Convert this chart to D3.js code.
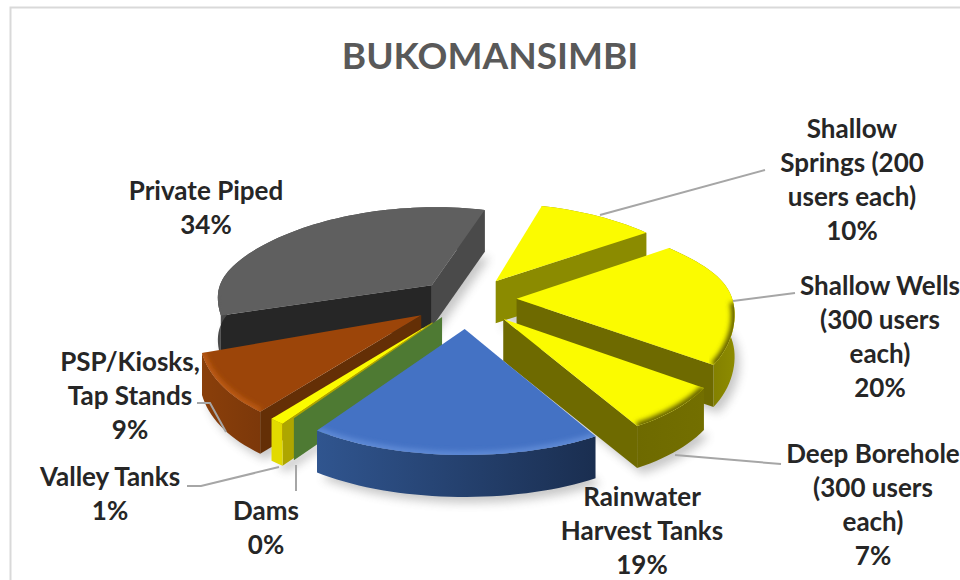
<!DOCTYPE html>
<html><head><meta charset="utf-8">
<script src="https://cdn.jsdelivr.net/npm/d3@7/dist/d3.min.js"></script>
<style>html,body{margin:0;padding:0;background:#fff;overflow:hidden}svg{display:block}text{font-family:Lato,"Open Sans",sans-serif;font-weight:700}</style>
</head><body><svg id="c" width="960" height="580"></svg>
<script>
const titleText = "BUKOMANSIMBI";
const categories = ["Shallow Springs (200 users each)","Shallow Wells (300 users each)","Deep Borehole (300 users each)","Rainwater Harvest Tanks","Dams","Valley Tanks","PSP/Kiosks, Tap Stands","Private Piped"];
const shares = [10,20,7,19,0,1,9,34];
const labelLines = [["Shallow","Springs (200","users each)"],["Shallow Wells","(300 users","each)"],["Deep Borehole","(300 users","each)"],["Rainwater","Harvest Tanks"],["Dams"],["Valley Tanks"],["PSP/Kiosks,","Tap Stands"],["Private Piped"]];

// presentation settings, separate from the data
const explode = [.25,.23,.235,.25,.19,.25,.25,.23];
const paintOrder = [7,0,6,1,5,4,2,3];
const labelAnchor = [[852,129],[880,286],[873,454],[642,497],[266,511],[110,477],[130,362],[206,191]];
const leaders = [[[600,215],[765,170]],[[733,301],[795,293]],[[675,455],[781,464]],null,[[296,465],[296,491]],[[187,486],[201,486],[279,467]],[[197,403],[210,403],[226,432]],null];
const looks = [
 {top:"#fbfb00",wall:"#8b8b00",rim:["#8b8b00","#8b8b00"],bevel:"#8b8b00"},
 {top:"#fbfb00",wall:"#6e6a00",rim:["#6e6a00","#8d8b00"],bevel:"#5a5600"},
 {top:"#fbfb00",wall:"#6e6a00",rim:["#6e6a00","#736f00"],bevel:"#5a5600"},
 {top:"#4472c4",wall:"#2f5597",rim:["#30558f","#1a2e50"],bevel:"#5f8ad6"},
 {top:"#4e7a33",wall:"#4e7a33",rim:["#4e7a33","#4e7a33"],bevel:"#4e7a33"},
 {top:"#fbfb00",wall:"#aea600",rim:["#e2da00","#e2da00"],bevel:"#fbfb00"},
 {top:"#9c4509",wall:"#642f06",rim:["#8a3f0a","#7c380a"],bevel:"#bd5c12"},
 {top:"#5f5f5f",wall:"#4a4a4a",startWall:"#262626",rim:["#4a4a4a","#4a4a4a"],bevel:"#5f5f5f"}
];
const cx=467, cy=300, depth=42, ax=216;
const rad=d=>d*Math.PI/180;

// oblique-perspective view of the pie's ground plane
function view(u,v){
  const s=1/(1-.12*v);
  return [cx+ax*u*s, cy+v*(102+22*Math.tanh(3*v))];
}
const svg=d3.select("#c");
const defs=svg.append("defs");
const blur=defs.append("filter").attr("id","soft").attr("x","-20%").attr("y","-20%").attr("width","140%").attr("height","140%");
blur.append("feGaussianBlur").attr("stdDeviation",2.6);
const sh=defs.append("filter").attr("id","shade").attr("x","-20%").attr("y","-20%").attr("width","140%").attr("height","140%");
sh.append("feGaussianBlur").attr("stdDeviation",5);

// frame
const line=d3.line();
svg.append("path").attr("d",line([[10.5,580],[10.5,7.5],[960,7.5]])).attr("fill","none").attr("stroke","#d9d9d9").attr("stroke-width",2);

svg.append("text").attr("x",490).attr("y",69).attr("text-anchor","middle").attr("font-size",37).attr("fill","#595959").text(titleText);

const pie=d3.pie().sort(null).value(d=>d).startAngle(rad(15)).endAngle(rad(375));
const arcs=pie(shares);
const slices=arcs.map((a,i)=>{
  const mid=(a.startAngle+a.endAngle)/2, e=explode[i];
  const ox=e*Math.sin(mid), oy=-e*Math.cos(mid);
  const pt=(t,r=1)=>view(ox+r*Math.sin(t),oy-r*Math.cos(t));
  const n=Math.max(2,Math.ceil((a.endAngle-a.startAngle)/rad(2)));
  const ts=d3.range(n+1).map(k=>a.startAngle+(a.endAngle-a.startAngle)*k/n);
  return {a,i,apex:view(ox,oy),rim:ts.map(t=>pt(t)),pt};
});
const down=p=>[p[0],p[1]+depth];
const closed=d3.line().curve(d3.curveLinearClosed);

// soft ground shadow, one layer below all slices
const shadow=svg.append("g").attr("filter","url(#shade)").attr("transform","translate(5,6)").attr("opacity",.32);
slices.forEach(s=>{
  const o=[s.apex,...s.rim].map(down);
  shadow.append("path").attr("d",closed(o)).attr("fill","#555");
});

paintOrder.forEach(idx=>{
  const s=slices[idx], L=looks[idx], g=svg.append("g");
  const first=s.rim[0], last=s.rim[s.rim.length-1];
  const a0=s.a.startAngle, a1=s.a.endAngle;
  const xs=s.rim.map(p=>p[0]);
  const gid="rim"+idx;
  const lg=defs.append("linearGradient").attr("id",gid).attr("gradientUnits","userSpaceOnUse")
    .attr("x1",d3.min(xs)).attr("x2",d3.max(xs)).attr("y1",0).attr("y2",0);
  lg.append("stop").attr("offset",0).attr("stop-color",L.rim[0]);
  lg.append("stop").attr("offset",1).attr("stop-color",L.rim[1]);
  if(Math.sin(a0)<0) g.append("path").attr("d",closed([s.apex,first,down(first),down(s.apex)])).attr("fill",L.startWall||L.wall);
  if(Math.sin(a1)>0) g.append("path").attr("d",closed([s.apex,last,down(last),down(s.apex)])).attr("fill",L.wall);
  if(s.rim.length>2) g.append("path").attr("d",closed([...s.rim,...s.rim.map(down).reverse()])).attr("fill",`url(#${gid})`);
  const topPoly=[s.apex,...s.rim];
  if(a1>a0){
    g.append("path").attr("d",closed(topPoly)).attr("fill",L.top);
    const from=Math.max(a0,rad(92)), to=Math.min(a1,rad(268));
    if(to>from){
      const cid="clip"+idx;
      defs.append("clipPath").attr("id",cid).append("path").attr("d",closed(topPoly));
      const m=Math.ceil((to-from)/rad(2));
      const b=d3.range(m+1).map(k=>s.pt(from+(to-from)*k/m));
      g.append("g").attr("clip-path",`url(#${cid})`).append("path")
        .attr("d",line(b)).attr("fill","none").attr("stroke",L.bevel).attr("stroke-width",7).attr("filter","url(#soft)");
    }
  }
});

svg.append("g").selectAll("path").data(leaders.filter(Boolean)).join("path")
  .attr("d",d=>line(d)).attr("fill","none").attr("stroke","#a6a6a6").attr("stroke-width",2);

const fmt=d3.format(".0f");
const lab=svg.append("g").attr("font-size",26).attr("fill","#262626").attr("text-anchor","middle");
categories.forEach((c,i)=>{
  const [x,y]=labelAnchor[i];
  const lines=[...labelLines[i],fmt(shares[i])+"%"];
  const t=lab.append("text").attr("aria-label",c);
  lines.forEach((l,k)=>t.append("tspan").attr("x",x).attr("y",y+9+k*34).text(l));
});
</script></body></html>
